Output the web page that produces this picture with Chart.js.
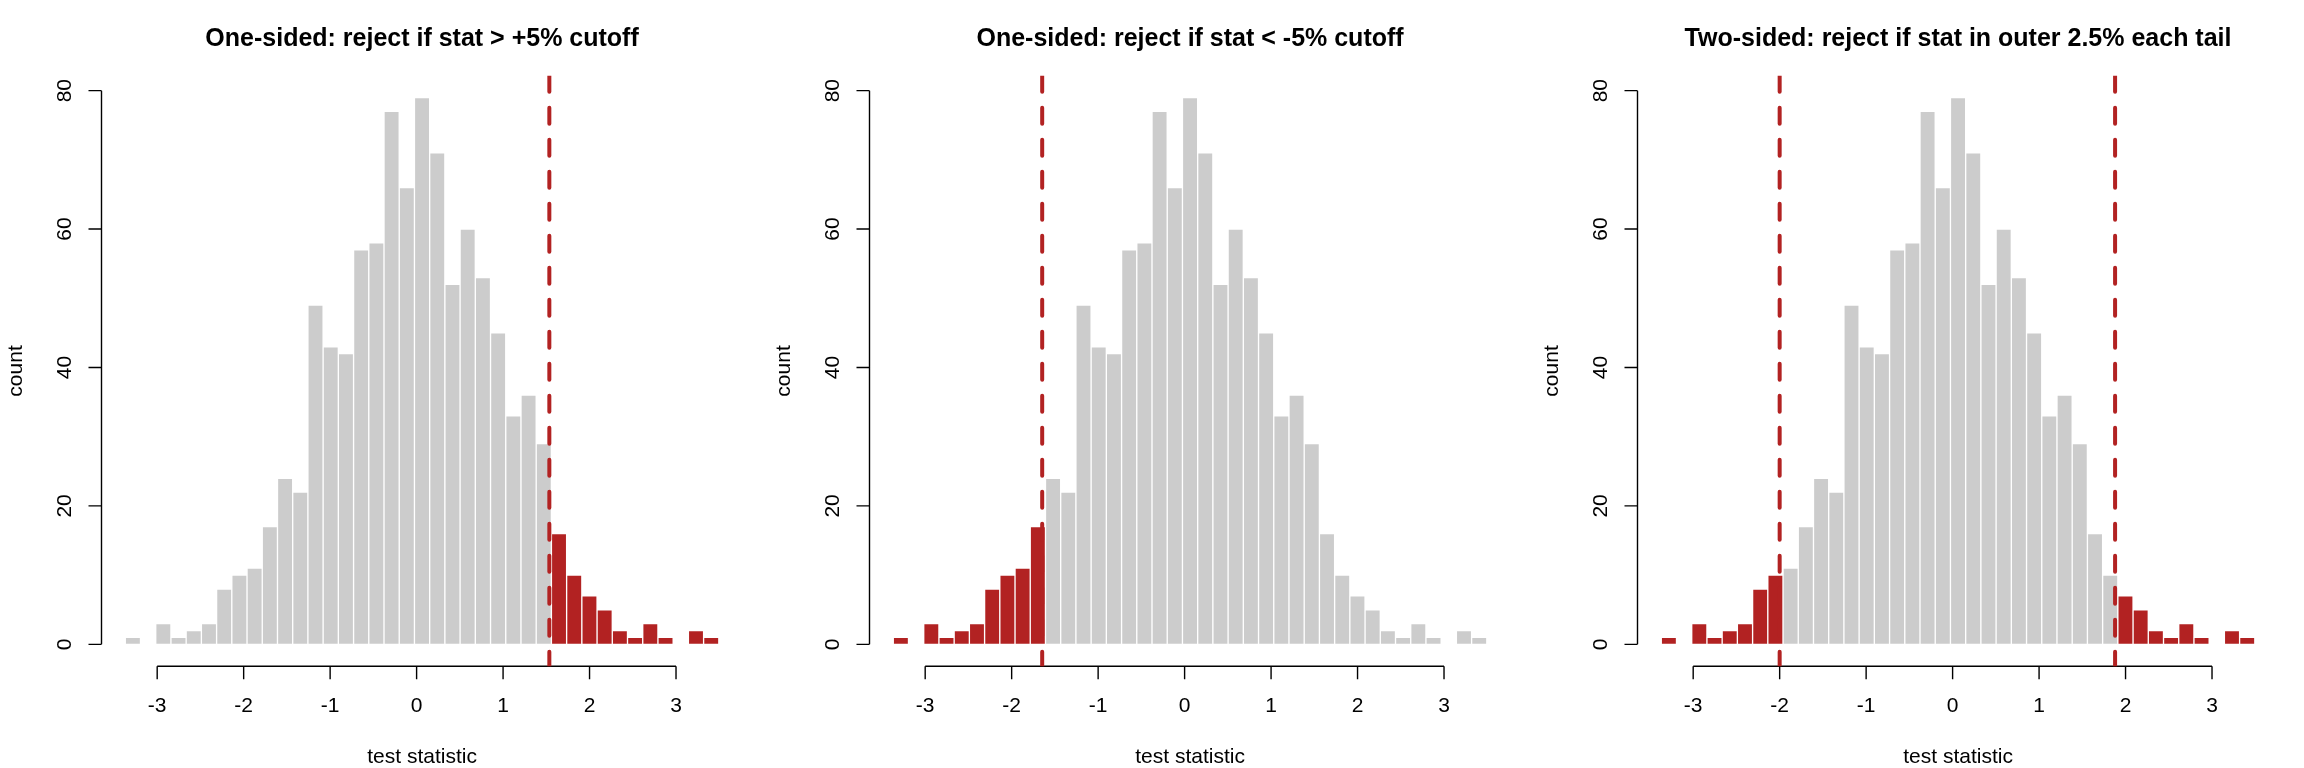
<!DOCTYPE html>
<html>
<head>
<meta charset="utf-8">
<title>Rejection regions</title>
<script src="https://cdn.jsdelivr.net/npm/chart.js@4.4.1/dist/chart.umd.min.js"></script>
<style>
  html, body { margin: 0; padding: 0; background: #fff; }
  .row { display: flex; width: 2304px; height: 768px; }
  canvas { display: block; }
</style>
</head>
<body>
<div class="row">
  <canvas id="p1" width="768" height="768"></canvas>
  <canvas id="p2" width="768" height="768"></canvas>
  <canvas id="p3" width="768" height="768"></canvas>
</div>
<script>
// histogram of the simulated test statistic (39 bins, 1000 draws)
const binMids = [
  -3.281, -3.105, -2.929, -2.753, -2.577, -2.401, -2.225, -2.049, -1.873, -1.697,
  -1.521, -1.345, -1.169, -0.993, -0.817, -0.641, -0.465, -0.289, -0.113, 0.063,
  0.239, 0.415, 0.591, 0.767, 0.943, 1.119, 1.295, 1.471, 1.647, 1.823,
  1.999, 2.175, 2.351, 2.527, 2.703, 2.879, 3.055, 3.231, 3.407
];
const counts = [
  1, 0, 3, 1, 2, 3, 8, 10, 11, 17,
  24, 22, 49, 43, 42, 57, 58, 77, 66, 79,
  71, 52, 60, 53, 45, 33, 36, 29, 16, 10,
  7, 5, 2, 1, 3, 1, 0, 2, 1
];
const xTicks = [-3, -2, -1, 0, 1, 2, 3];
const yTicks = [0, 20, 40, 60, 80];
const titles = [
  'One-sided: reject if stat > +5% cutoff',
  'One-sided: reject if stat < -5% cutoff',
  'Two-sided: reject if stat in outer 2.5% each tail'
];
const cutUpper = 1.535;        // upper 5% cutoff
const cutLower = -1.647;       // lower 5% cutoff
const cutTwo = [-2.0, 1.879];  // 2.5% in each tail

const GREY = '#cccccc';
const RED = '#b22222';
const FONT = "'Liberation Sans', Arial, Helvetica, sans-serif";

// plot limits like R: data range padded by 4%
const xLim = [-3.644, 3.770];
const yLim = [-3.16, 82.16];

Chart.defaults.font.family = FONT;
Chart.defaults.color = '#000';

// R style axes: line only between first and last tick, ticks outward
const rAxes = {
  id: 'rAxes',
  beforeDatasetsDraw(chart) {
    const {ctx, chartArea, scales: {x, y}} = chart;
    const xs = x.ticks.map(t => x.getPixelForValue(t.value));
    const ys = y.ticks.map(t => y.getPixelForValue(t.value));
    const bottom = chartArea.bottom;
    const left = chartArea.left;

    ctx.save();
    ctx.strokeStyle = '#000';
    ctx.lineWidth = 1.4;
    ctx.beginPath();
    ctx.moveTo(xs[0], bottom);
    ctx.lineTo(xs[xs.length - 1], bottom);
    xs.forEach(px => { ctx.moveTo(px, bottom); ctx.lineTo(px, bottom + 13); });
    ctx.moveTo(left, ys[0]);
    ctx.lineTo(left, ys[ys.length - 1]);
    ys.forEach(py => { ctx.moveTo(left, py); ctx.lineTo(left - 13, py); });
    ctx.stroke();

    ctx.fillStyle = '#000';
    ctx.font = '21px ' + FONT;
    ctx.textAlign = 'center';
    ctx.textBaseline = 'alphabetic';
    x.ticks.forEach((t, i) => ctx.fillText(String(t.value), xs[i], bottom + 46));
    ctx.fillText('test statistic', (chartArea.left + chartArea.right) / 2, bottom + 96.5);

    y.ticks.forEach((t, i) => {
      ctx.save();
      ctx.translate(left - 30.5, ys[i]);
      ctx.rotate(-Math.PI / 2);
      ctx.fillText(String(t.value), 0, 0);
      ctx.restore();
    });
    ctx.translate(left - 79.5, (chartArea.top + chartArea.bottom) / 2);
    ctx.rotate(-Math.PI / 2);
    ctx.fillText('count', 0, 0);
    ctx.restore();
  }
};

function makePanel(id, title, cuts, rejected) {
  const datasets = [{
    type: 'bar',
    data: binMids.map((m, i) => ({x: m, y: counts[i]})),
    backgroundColor: binMids.map(m => rejected(m) ? RED : GREY),
    borderColor: '#ffffff',
    borderWidth: 1,
    borderSkipped: false,
    categoryPercentage: 1,
    barPercentage: 1,
    order: 2
  }];
  cuts.forEach(c => datasets.push({
    type: 'line',
    data: [{x: c, y: yLim[1]}, {x: c, y: yLim[0]}],
    borderColor: RED,
    borderWidth: 4,
    borderDash: [16, 16],
    borderCapStyle: 'round',
    pointRadius: 0,
    fill: false,
    order: 1
  }));

  new Chart(document.getElementById(id), {
    type: 'bar',
    data: { datasets },
    options: {
      responsive: false,
      animation: false,
      devicePixelRatio: 1,
      layout: { padding: { left: 101.5, right: 25.4, top: 0, bottom: 101.8 } },
      scales: {
        x: {
          type: 'linear', min: xLim[0], max: xLim[1], display: false, offset: false,
          grid: { offset: false },
          afterBuildTicks: s => { s.ticks = xTicks.map(v => ({value: v})); }
        },
        y: {
          type: 'linear', min: yLim[0], max: yLim[1], display: false,
          afterBuildTicks: s => { s.ticks = yTicks.map(v => ({value: v})); }
        }
      },
      plugins: {
        legend: { display: false },
        tooltip: { enabled: false },
        title: {
          display: true,
          text: title,
          fullSize: false,
          color: '#000',
          font: { size: 25, weight: 'bold', lineHeight: 1 },
          padding: { top: 26.5, bottom: 24.2 }
        }
      }
    },
    plugins: [rAxes]
  });
}

makePanel('p1', titles[0], [cutUpper], m => m > cutUpper);
makePanel('p2', titles[1], [cutLower], m => m < cutLower);
makePanel('p3', titles[2], cutTwo, m => m < cutTwo[0] || m > cutTwo[1]);
</script>
</body>
</html>
